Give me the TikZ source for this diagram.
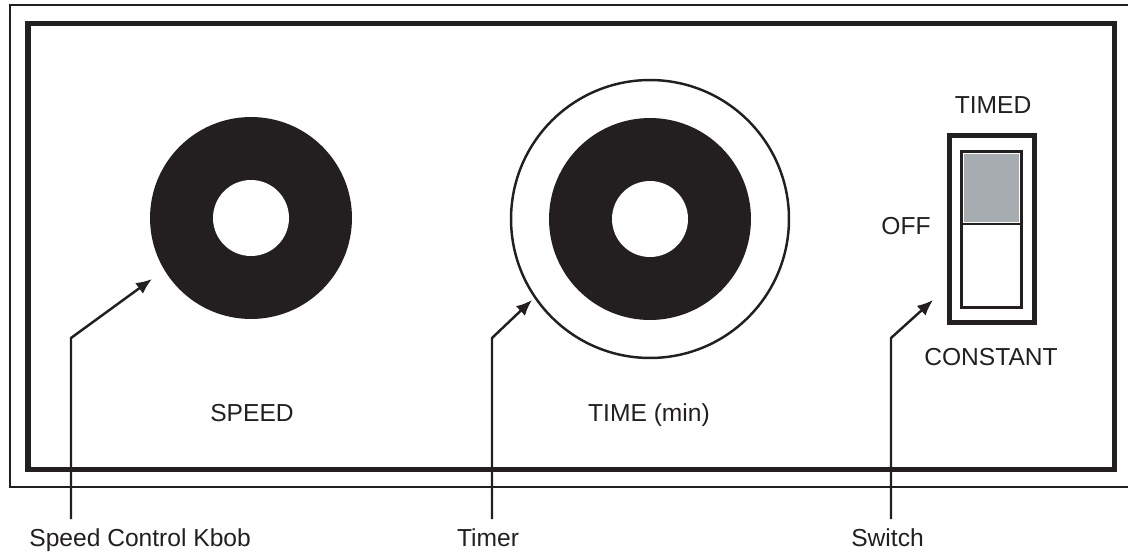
\documentclass[tikz,border=0pt]{standalone}
\usepackage{fontspec}
\setmainfont{Liberation Sans}
\usepackage{xcolor}
\usepackage{tikz}
\usetikzlibrary{arrows.meta,positioning}
\definecolor{pnInk}{HTML}{231F20}
\definecolor{pnSlide}{HTML}{A7ACB1}
\tikzset{
  pn diagram/.style={font=\fontsize{14}{17}\selectfont, text=pnInk},
  pn case/.style={draw=pnInk, line width=1.1pt},
  pn frame/.style={draw=pnInk, line width=2.85pt},
  pn knob/.style={circle, fill=pnInk, minimum size=4.04cm, inner sep=0pt},
  pn hole/.style={circle, fill=white, minimum size=1.52cm, inner sep=0pt},
  pn ring/.style={circle, draw=pnInk, line width=1.4pt, minimum size=5.56cm, inner sep=0pt},
  pn rocker/.style={draw=pnInk, line width=1.7pt},
  pn leader/.style={-{Latex[length=9pt,width=7.5pt]}, draw=pnInk, line width=1.4pt},
  pn label/.style={inner sep=0pt, anchor=base}
}

\begin{document}
\begin{tikzpicture}[pn diagram,x=0.02cm,y=-0.02cm]
\useasboundingbox (0,0) rectangle (1128,551);
\clip (0,0) rectangle (1128,551);
% housing and front panel
\draw[pn case] (10,5) rectangle (1140,487);
\draw[pn frame] (28,23.5) rectangle (1114,469);
% knobs
\node[pn knob] (speedknob) at (251,218) {};
\node[pn hole] (speedhole) at (speedknob) {};
\node[pn ring] (timerring) at (650,219) {};
\node[pn knob] (timerknob) at (timerring) {};
\node[pn hole] (timerhole) at (timerknob) {};
% rocker switch
\draw[pn frame] (949,135.5) rectangle (1034,322.5);
\fill[pnSlide] (963.5,153.5) rectangle (1019,222);
\draw[pn rocker] (961.3,151.3) rectangle (1021.3,307.3) (961.3,224) -- (1021.3,224);
% panel texts
\node[pn label] (speedtxt) at (252,421.5) {SPEED};
\node[pn label] (timetxt) at (649,421.5) {TIME (min)};
\node[pn label] (timedtxt) at (993,113) {TIMED};
\node[pn label] (offtxt) at (906,234) {OFF};
\node[pn label] (consttxt) at (991,365) {CONSTANT};
% callouts
\node[pn label, anchor=base west] (speedlbl) at (29,546) {Speed Control Kbob};
\node[pn label] (timerlbl) at (488,546) {Timer};
\node[pn label] (switchlbl) at (887.5,546) {Switch};
\foreach \name/\x/\tx/\ty in {speed/71/152/279,timer/492/532/300,switch/891/933/300}{
  \coordinate (\name foot) at (\x,519);
  \coordinate (\name bend) at (\x,338);
  \coordinate (\name tip) at (\tx,\ty);
  \draw[pn leader] (\name foot) -- (\name bend) -- (\name tip);
}
\end{tikzpicture}
\end{document}
